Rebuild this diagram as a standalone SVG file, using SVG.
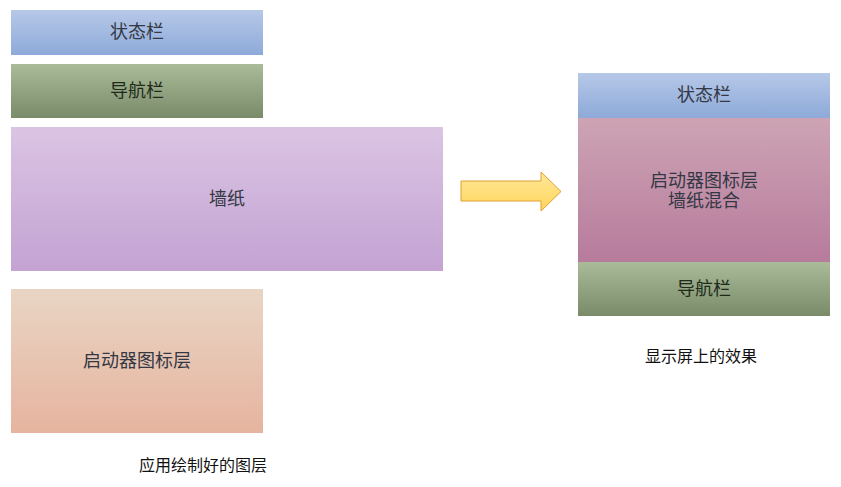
<svg xmlns="http://www.w3.org/2000/svg" width="841" height="487" viewBox="0 0 841 487">
<style>
text{font-family:"Noto Sans CJK SC","Liberation Sans",sans-serif;fill:#333844;text-anchor:middle;}
.lbl{font-size:18px;}
.cap{font-size:16px;fill:#111;}
</style>
<defs>
<linearGradient id="gBlue" x1="0" y1="0" x2="0" y2="1"><stop offset="0" stop-color="#b6c8e8"/><stop offset="1" stop-color="#8eaad9"/></linearGradient>
<linearGradient id="gGreen" x1="0" y1="0" x2="0" y2="1"><stop offset="0" stop-color="#a9bb99"/><stop offset="1" stop-color="#7a8b6a"/></linearGradient>
<linearGradient id="gPurple" x1="0" y1="0" x2="0" y2="1"><stop offset="0" stop-color="#dac4e3"/><stop offset="1" stop-color="#c4a3d3"/></linearGradient>
<linearGradient id="gPeach" x1="0" y1="0" x2="0" y2="1"><stop offset="0" stop-color="#e9d5c4"/><stop offset="1" stop-color="#e6b49f"/></linearGradient>
<linearGradient id="gRose" x1="0" y1="0" x2="0" y2="1"><stop offset="0" stop-color="#cda4b4"/><stop offset="1" stop-color="#b77b9c"/></linearGradient>
<linearGradient id="gArrow" x1="0" y1="0" x2="0" y2="1"><stop offset="0" stop-color="#ffe79a"/><stop offset="1" stop-color="#ffd65c"/></linearGradient>
</defs>
<g id="status-left"><rect x="11" y="10" width="252" height="45" fill="url(#gBlue)"/><text class="lbl" x="137" y="38">状态栏</text></g>
<g id="nav-left"><rect x="11" y="64" width="252" height="54" fill="url(#gGreen)"/><text class="lbl" x="137" y="97" style="fill:#1f2a1a">导航栏</text></g>
<g id="wallpaper"><rect x="11" y="127" width="432" height="144" fill="url(#gPurple)"/><text class="lbl" x="227" y="205">墙纸</text></g>
<g id="launcher"><rect x="11" y="289" width="252" height="144" fill="url(#gPeach)"/><text class="lbl" x="137" y="367">启动器图标层</text></g>
<text class="cap" x="203" y="471">应用绘制好的图层</text>
<g id="connectors"><polygon points="461,181 541,181 541,172 561,191.5 541,211 541,201 461,201" fill="url(#gArrow)" stroke="#e0a030" stroke-width="1"/></g>
<g id="screen">
<g id="status-right"><rect x="578" y="73" width="252" height="45" fill="url(#gBlue)"/><text class="lbl" x="704" y="101">状态栏</text></g>
<g id="blend"><rect x="578" y="118" width="252" height="144" fill="url(#gRose)"/><text class="lbl" x="704" y="187"><tspan x="704" y="187">启动器图标层</tspan><tspan x="704" y="207">墙纸混合</tspan></text></g>
<g id="nav-right"><rect x="578" y="262" width="252" height="54" fill="url(#gGreen)"/><text class="lbl" x="704" y="295" style="fill:#1f2a1a">导航栏</text></g>
</g>
<text class="cap" x="701" y="362">显示屏上的效果</text>
</svg>
